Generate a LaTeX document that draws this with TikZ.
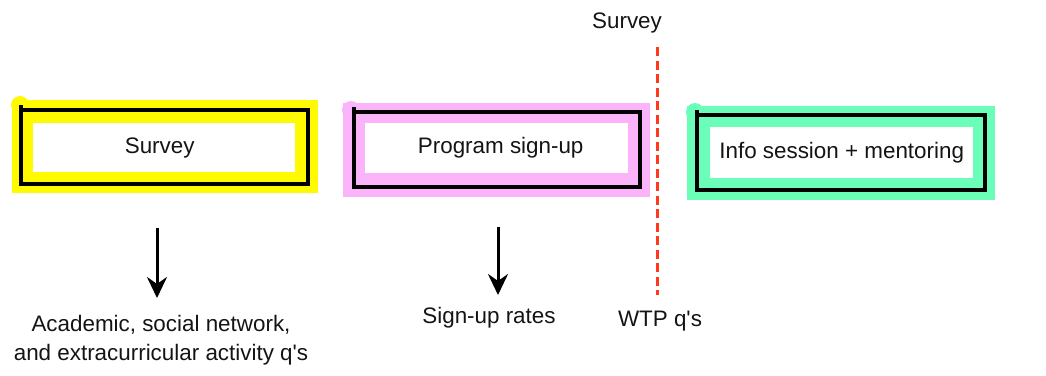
\documentclass[tikz,border=0pt]{standalone}
\usepackage{fontspec}
\setmainfont{Liberation Sans}
\usetikzlibrary{arrows.meta}

\definecolor{hlyellow}{RGB}{255,250,0}
\definecolor{hlpink}{RGB}{251,180,250}
\definecolor{hlgreen}{RGB}{106,254,184}
\definecolor{cutred}{RGB}{255,56,30}

\tikzset{
  label text/.style={font=\fontsize{22.4}{28.5}\selectfont, text=black!92, inner sep=0pt},
  stagebox/.style={label text, fill=white, draw=none, anchor=north west},
  frame/.style={draw=black, line width=3.6pt, line join=miter},
  down arrow/.style={draw=black, line width=3pt,
    -{Stealth[length=21pt, width=20pt, inset=7pt]}},
  cutline/.style={draw=cutred, line width=3pt, dash pattern=on 9pt off 4.5pt}
}

\begin{document}
\begin{tikzpicture}[x=1pt, y=-1pt]
  \useasboundingbox (0,0) rectangle (1046,375);

  % highlighter strokes behind each stage
  \fill[hlyellow] (12,100) rectangle (318,193);
  \fill[hlyellow] (20,105) circle (9);
  \fill[hlpink] (343,103) rectangle (650,197);
  \fill[hlpink] (351,110) circle (9);
  \fill[hlgreen] (687,106) rectangle (995,200);
  \fill[hlgreen] (695,112) circle (9);

  % hand-drawn black frames
  \draw[frame] (21,105) -- (21,184) -- (308,184) -- (308,110) -- (21,110);
  \draw[frame] (354,107) -- (354,187) -- (640,187) -- (640,112) -- (354,112);
  \draw[frame] (697,110) -- (697,190) -- (985,190) -- (985,115) -- (697,115);

  % stage boxes
  \node[stagebox, minimum width=262pt, minimum height=49pt] (survey) at (33,123) {\hspace*{-9pt}Survey};
  \node[stagebox, minimum width=263pt, minimum height=50pt] (signup) at (365,123) {\hspace*{8pt}Program sign-up};
  \node[stagebox, minimum width=263pt, minimum height=51pt] (info) at (710,127) {Info session + mentoring};

  % outcome labels
  \node[label text, anchor=north, align=center] (q1) at (161,315.5) {Academic, social network,\\and extracurricular activity q\textquotesingle s};
  \node[label text, anchor=north] (q2) at (489,307) {Sign-up rates};
  \node[label text, anchor=north] (wtp) at (660,311) {WTP q\textquotesingle s};
  \node[label text, anchor=base] (topsurvey) at (627,28) {Survey};

  % arrows from stages to outcomes
  \coordinate (t1) at (157,228);
  \coordinate (t2) at (498,227);
  \draw[down arrow, shorten >=17.5pt] (t1) -- (t1 |- q1.north);
  \draw[down arrow, shorten >=12pt] (t2) -- (t2 |- q2.north);

  % survey cut-off line
  \coordinate (c1) at (657,47);
  \coordinate (c2) at (657,295);
  \draw[cutline] (c1) -- (c2);
\end{tikzpicture}
\end{document}
